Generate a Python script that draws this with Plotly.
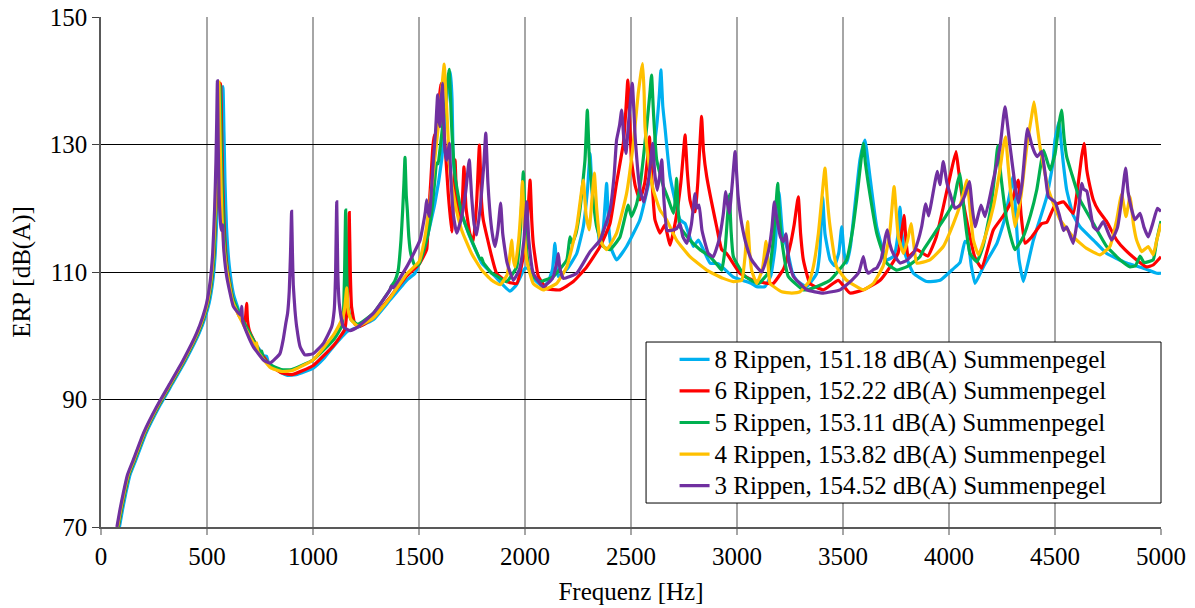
import plotly.graph_objects as go

# ---- data: (frequency Hz, ERP dB(A)) ----
rippen_8 = [(87,70),(102,72.8),(117,75.3),(137,78.2),(164,80.5),(212,84.7),(275,88.9),(337,92.5),(400,96.2),(463,100.4),(492,103),(510,105.1),(527,108.5),(539,113),(548,120),(554,127),(558,132),(564,136),(575,139.1),(580,132),(585,124),(592,117),(605,111),(625,106.5),(660,103),(700,100.2),(740,98.2),(770,96.8),(781,96.8),(790,95.8),(850,94.2),(876,93.8),(920,93.9),(1000,94.9),(1050,96.4),(1096,98.3),(1159,100.6),(1222,101.5),(1284,102.5),(1363,105.6),(1442,108.7),(1481,109.8),(1528,114),(1575,120.8),(1607,127.6),(1631,137),(1642,140.5),(1649,141.3),(1656,137),(1662,127.6),(1686,120.8),(1733,116.1),(1796,111.4),(1859,109.3),(1929,107),(1960,108),(2000,110.6),(2020,110.5),(2039,109),(2086,107.7),(2110,108.5),(2130,110.5),(2141,114.5),(2149,111),(2157,109.3),(2200,110.5),(2244,112.9),(2275,117.1),(2295,123),(2307,128.6),(2318,122),(2338,118.7),(2354,114),(2370,117),(2385,123.9),(2395,117),(2409,113.5),(2432,111.9),(2479,114),(2542,118.2),(2590,125),(2621,132.8),(2634,138),(2641,141.7),(2650,136),(2660,132.8),(2684,125),(2731,118.2),(2755,117.6),(2794,114),(2818,115),(2873,111.4),(2912,111.3),(2983,109.2),(3069,108.2),(3093,107.7),(3132,107.7),(3160,109.5),(3180,114),(3193,121),(3198,122.5),(3205,120),(3215,116),(3234,114),(3260,110),(3281,108.7),(3329,107.7),(3376,109.8),(3390,113),(3404,121.8),(3415,116),(3439,111.9),(3460,111),(3480,113),(3494,117.1),(3505,113),(3517,111.4),(3535,114),(3549,118.2),(3580,127.6),(3596,130),(3604,130.7),(3612,129),(3627,125),(3659,117.1),(3706,111.9),(3740,112.5),(3760,116),(3769,120.2),(3778,116),(3792,112.9),(3832,109.8),(3895,108.5),(3958,108.7),(4020,110.5),(4052,111.5),(4075,114.8),(4090,114.5),(4105,111),(4123,108.2),(4162,110.8),(4226,114.5),(4260,118),(4285,122),(4303,125),(4315,119),(4330,112),(4351,108.5),(4370,111),(4398,115),(4461,121.8),(4490,127),(4500,130.7),(4519,133.6),(4530,130),(4539,127.1),(4555,122.9),(4585,119),(4618,117.1),(4681,115),(4744,112.9),(4838,111.4),(4917,110.6),(4980,109.8),(5000,109.8)]

rippen_6 = [(81,70),(96,72.8),(111,75.3),(131,78.2),(158,80.5),(206,84.7),(269,88.9),(331,92.5),(394,96.2),(457,100.4),(486,103),(504,105.1),(521,108.5),(533,113),(542,120),(548,127),(552,132),(557,136.5),(564,139.6),(569,132),(574,124),(581,117),(594,111),(620,106),(650,103.2),(675,102),(682,103),(687,105.1),(691,102.5),(700,100.8),(740,98),(800,95.3),(850,94.2),(900,93.9),(1000,95.3),(1100,98.6),(1150,101),(1160,104),(1166,110),(1171,119.3),(1176,110),(1182,104.5),(1198,101.8),(1222,101.5),(1284,102.8),(1363,106),(1442,109.4),(1500,111.2),(1536,113.5),(1544,118.2),(1555,124),(1565,129.5),(1572,131.5),(1580,130.5),(1590,134),(1598,138),(1604,139.6),(1612,134),(1623,129.7),(1638,122.3),(1654,116.3),(1662,121),(1670,127.6),(1678,121),(1694,117.6),(1705,121.5),(1712,126.5),(1722,120),(1740,116),(1756,114.8),(1772,121),(1785,129.9),(1795,121),(1803,118.2),(1843,112.4),(1866,109.8),(1913,108.5),(1961,108.2),(2000,114),(2015,120),(2024,124.4),(2032,118),(2039,114.5),(2063,109.3),(2102,107.4),(2165,107.2),(2228,108.5),(2291,110.8),(2354,114),(2401,117.6),(2432,124),(2464,130.2),(2476,135.5),(2485,140.1),(2494,134),(2502,127.6),(2520,123.5),(2542,121.3),(2565,124),(2580,128.5),(2587,131.2),(2596,126),(2613,118.2),(2637,116.1),(2660,117.4),(2684,114.2),(2710,118),(2735,124),(2748,129),(2755,131.5),(2765,126),(2778,121.3),(2794,119.5),(2802,119.5),(2815,124),(2825,130),(2833,134.4),(2842,129),(2857,125),(2904,117.1),(2928,113.5),(2951,112.9),(3014,109.8),(3077,108.7),(3148,108.2),(3171,108.2),(3220,110.5),(3250,114),(3270,117.5),(3289,121.8),(3300,116),(3313,111.9),(3344,108.2),(3407,107.2),(3478,108.7),(3533,106.7),(3596,107.2),(3675,108.7),(3722,110.8),(3760,113),(3780,117),(3788,118.9),(3797,115),(3808,112.4),(3848,113.5),(3900,112.5),(3940,115.5),(3973,120.2),(4005,125),(4033,128.9),(4045,126),(4060,122.3),(4090,117),(4120,112.5),(4154,110.6),(4209,116.6),(4260,119),(4300,121.5),(4327,124.4),(4340,119),(4359,114.5),(4390,115.5),(4437,117.6),(4462,117.8),(4500,120.5),(4540,121),(4586,119.2),(4610,124),(4625,128),(4637,130.2),(4650,126),(4665,123.4),(4681,121.3),(4704,119.7),(4744,117.9),(4791,115),(4830,113.5),(4885,111.9),(4932,110.8),(4963,111.1),(5000,112.4)]

rippen_5 = [(81,70),(96,72.8),(111,75.3),(131,78.2),(158,80.5),(206,84.7),(269,88.9),(331,92.5),(394,96.2),(457,100.4),(486,103),(504,105.1),(521,108.5),(533,113),(541,120),(547,127),(551,132),(555,136),(561,139.3),(566,132),(571,124),(578,117),(592,111),(620,106),(660,103),(700,100.5),(740,98),(752,97.2),(758,97.6),(764,96.5),(800,95.4),(850,94.7),(900,94.7),(1000,96.2),(1100,99.5),(1135,101.5),(1144,104),(1149,110),(1154,119.7),(1159,110),(1165,104.5),(1180,102.5),(1212,101.8),(1284,103.5),(1363,107.2),(1370,107.8),(1385,108.5),(1402,110.3),(1415,115),(1423,119.7),(1429,124),(1434,128),(1440,122),(1445,119.7),(1452,115.5),(1461,112.9),(1480,111),(1500,111.2),(1536,115),(1560,119.5),(1575,124.5),(1583,127.1),(1590,127),(1600,129.5),(1612,133),(1623,135.4),(1633,139.5),(1642,141.8),(1648,138),(1654,132.8),(1670,125),(1701,119.2),(1748,115),(1790,112),(1796,112.2),(1803,111.5),(1843,109.8),(1866,109.4),(1913,108.5),(1961,110.8),(1978,116.5),(1992,125.7),(2002,117),(2012,112),(2024,109.8),(2071,108.5),(2134,109.3),(2197,111.9),(2212,115.5),(2222,114.5),(2240,116),(2259,119.7),(2283,127.6),(2294,135.4),(2303,128),(2315,123.4),(2338,117.1),(2369,114),(2401,113.5),(2448,115.5),(2487,120.5),(2502,118.7),(2525,120.5),(2542,123.4),(2574,132.8),(2589,138),(2597,140.9),(2606,135),(2621,127.6),(2653,123.4),(2675,121.5),(2700,119.2),(2708,121),(2715,124.7),(2722,120),(2731,117.1),(2778,115),(2826,113.5),(2873,112.4),(2910,111),(2928,110.3),(2945,114),(2957,119.5),(2964,122.2),(2972,116.5),(2983,112.4),(3038,109.3),(3101,108.2),(3150,110),(3171,115),(3184,120.5),(3192,123.9),(3200,119),(3211,115),(3242,109.3),(3313,107.2),(3360,107.5),(3439,108.7),(3517,111.9),(3545,116.5),(3564,121.3),(3585,127.5),(3596,130.2),(3606,127),(3619,123.9),(3659,116.1),(3706,111.4),(3753,110.3),(3800,110.8),(3863,112.4),(3880,113.5),(3910,115),(3942,116.6),(3980,118.5),(4020,120.8),(4040,124),(4052,125.4),(4065,121.5),(4080,117),(4099,112.9),(4131,111.6),(4160,114),(4193,119.2),(4215,125),(4230,129.8),(4245,125),(4272,118.2),(4311,113.5),(4350,115.5),(4385,119),(4414,122.9),(4446,129.1),(4462,127.5),(4477,126),(4500,128.5),(4520,133.5),(4531,135.4),(4543,131),(4555,128.1),(4578,125.5),(4618,121.3),(4681,117.6),(4744,114),(4807,111.9),(4854,110.8),(4880,111),(4901,112.5),(4920,111.5),(4963,111.9),(4980,115),(5000,118)]

rippen_4 = [(78,70),(93,72.8),(108,75.3),(128,78.2),(155,80.5),(203,84.7),(266,88.9),(328,92.5),(391,96.2),(454,100.4),(483,103),(501,105.1),(518,108.5),(530,113),(539,120),(545,127),(549,132),(552,136),(556,139.8),(561,132),(566,124),(573,117),(590,111),(620,105.5),(660,102.5),(700,100),(728,98.5),(734,98.9),(740,97.5),(800,95),(850,94.4),(900,94.5),(1000,96.2),(1100,100.3),(1140,102.8),(1150,104.5),(1159,107.5),(1166,104),(1180,102.5),(1212,101.5),(1284,102.8),(1363,105.9),(1442,109.7),(1500,111.6),(1528,115.5),(1560,123.4),(1591,132.8),(1608,139),(1619,142.6),(1625,139),(1631,135.4),(1646,126),(1670,120.8),(1701,116.6),(1748,112.9),(1796,110.3),(1843,108.7),(1882,108),(1915,109.5),(1930,113),(1937,115),(1945,112),(1953,110.8),(1970,115),(1980,119.5),(1988,124.2),(1996,117),(2008,111.9),(2039,108.2),(2086,107.2),(2149,108.2),(2197,110.8),(2244,117.1),(2262,121.5),(2275,124.4),(2288,119),(2303,116.6),(2316,121.5),(2327,125.5),(2338,120),(2354,115),(2385,113.5),(2432,116.1),(2479,122.3),(2511,130.2),(2534,138),(2548,141.5),(2555,142.7),(2562,138),(2566,132.8),(2582,127.6),(2605,122.9),(2637,119.7),(2668,118.2),(2715,115),(2778,112.4),(2857,110.3),(2935,109),(2983,108.5),(3022,108.7),(3038,112.5),(3050,117.9),(3060,113),(3069,110.3),(3093,108.2),(3120,110.5),(3137,114.8),(3147,111),(3156,108.2),(3211,106.9),(3258,106.7),(3297,106.9),(3340,108.5),(3360,110.8),(3384,116.1),(3400,121.5),(3415,126.3),(3427,121),(3439,117.1),(3470,110.8),(3517,108.7),(3596,107.2),(3643,108.2),(3690,111),(3720,116),(3741,123.4),(3752,119),(3761,115.5),(3785,112.9),(3805,115),(3821,117.6),(3835,114),(3848,111.4),(3910,111.9),(3973,114),(4020,117.5),(4060,121.3),(4085,124.4),(4100,119.5),(4115,115),(4139,112.7),(4175,116),(4209,120.2),(4240,126),(4256,129.7),(4267,131.2),(4278,127),(4288,123.4),(4311,117.1),(4340,122),(4367,129.7),(4390,134.5),(4401,136.7),(4412,134),(4429,129.7),(4469,122.9),(4524,118.2),(4586,115.5),(4649,113.7),(4712,112.7),(4759,114),(4790,118),(4814,122.2),(4835,118.7),(4854,121.8),(4870,117.5),(4885,115),(4909,113.2),(4940,114),(4963,112.7),(4980,115),(5000,117.6)]

rippen_3 = [(75,70),(90,72.8),(105,75.3),(125,78.2),(152,80.5),(200,84.7),(263,88.9),(325,92.5),(388,96.2),(451,100.4),(480,103),(498,105.1),(515,108.5),(527,113),(536,120),(542,127),(546,134),(549,140),(553,130),(557,122),(562,118.5),(566,117),(570,116.5),(574,117.4),(578,114),(593,109.3),(624,104.6),(650,103.5),(660,103.2),(664,104.6),(668,102.3),(690,100.3),(718,98.3),(766,96.2),(797,95.7),(844,97.2),(860,99.5),(872,102),(880,103.5),(888,107),(894,113),(899,119.5),(903,113),(907,108),(915,104),(923,101.4),(939,98.3),(962,97.0),(1001,97.2),(1049,98.8),(1088,101.4),(1100,104),(1106,109),(1112,121),(1117,110),(1124,105),(1143,101.4),(1175,100.8),(1212,101.4),(1284,103.5),(1363,107.2),(1370,107.8),(1378,107.5),(1442,110.8),(1505,115),(1520,117.5),(1530,119.5),(1536,121.3),(1543,119.5),(1549,118.7),(1560,123.5),(1568,127.6),(1578,132),(1588,137.8),(1594,134),(1599,132.8),(1604,136.5),(1610,139.6),(1616,134),(1623,129.1),(1631,127.5),(1638,129),(1643,130.2),(1650,125),(1662,119),(1678,116.1),(1700,118.5),(1720,122.5),(1737,127.6),(1748,122),(1760,117.5),(1772,115.8),(1790,120.5),(1805,126.5),(1815,131.8),(1825,124),(1840,117.5),(1851,115),(1859,114),(1872,116.5),(1885,120.8),(1895,116),(1915,111.5),(1945,108.7),(1975,110.5),(1995,115),(2008,121),(2018,115),(2039,109.8),(2086,107.7),(2130,109),(2150,111.5),(2157,112.9),(2165,110.5),(2181,109),(2244,109.8),(2307,113.2),(2354,115),(2401,119.7),(2420,125),(2432,130.7),(2446,133),(2456,135.4),(2466,131),(2476,128.6),(2490,134),(2506,139.6),(2520,131),(2542,123),(2560,121),(2585,125),(2602,130.2),(2612,125.5),(2624,122.8),(2635,125),(2645,127.6),(2656,121),(2670,116.5),(2684,116.5),(2715,116.8),(2731,117.6),(2745,115.5),(2763,114.5),(2785,117.5),(2802,122.3),(2810,120),(2821,120.5),(2835,116.5),(2865,112.9),(2888,112.4),(2915,115),(2935,119),(2947,122.6),(2956,120.5),(2964,119.2),(2978,124),(2991,128.9),(3005,122),(3022,117.6),(3046,114),(3069,111.9),(3117,110.0),(3150,113.5),(3165,117),(3176,121),(3185,119),(3205,115.5),(3219,114.8),(3231,116),(3245,111.5),(3266,109.3),(3329,107.2),(3407,106.7),(3486,107.2),(3541,108.7),(3575,110),(3596,112.4),(3608,110.5),(3619,109.8),(3645,110.4),(3659,110.6),(3680,112),(3700,115.5),(3709,116.6),(3720,114.5),(3737,112.9),(3769,111.4),(3800,111.8),(3832,112.9),(3855,115),(3871,117.1),(3890,120.7),(3904,118.8),(3920,121.5),(3945,125.8),(3957,123.7),(3973,127.3),(3990,124),(4005,122.3),(4028,120),(4052,120.5),(4075,122),(4096,124.2),(4110,120),(4123,117.1),(4151,120.5),(4170,118.7),(4209,124.4),(4241,129.7),(4264,135.9),(4288,129.7),(4310,124),(4327,120.8),(4345,124),(4370,132.5),(4390,130),(4406,128.6),(4417,128.1),(4437,128.9),(4455,125),(4469,121.8),(4500,121),(4520,119),(4540,116.5),(4555,117.1),(4586,114.5),(4605,118),(4626,123.9),(4635,123),(4650,122.7),(4665,120),(4681,117.1),(4700,116.5),(4728,117.9),(4767,115),(4795,117),(4815,121.5),(4833,126.3),(4845,122.5),(4860,120),(4877,118.2),(4901,119.2),(4920,117),(4940,115.5),(4960,117.5),(4983,120),(5000,119.5)]

series_names = ["8 Rippen, 151.18 dB(A) Summenpegel",
                "6 Rippen, 152.22 dB(A) Summenpegel",
                "5 Rippen, 153.11 dB(A) Summenpegel",
                "4 Rippen, 153.82 dB(A) Summenpegel",
                "3 Rippen, 154.52 dB(A) Summenpegel"]
series_data = [rippen_8, rippen_6, rippen_5, rippen_4, rippen_3]
series_colors = ["#00B0F0", "#FF0000", "#00B050", "#FFC000", "#7030A0"]

x_ticks = [0, 500, 1000, 1500, 2000, 2500, 3000, 3500, 4000, 4500, 5000]
y_ticks = [70, 90, 110, 130, 150]

FONT = "Liberation Serif"

fig = go.Figure()
for name, data, color in zip(series_names, series_data, series_colors):
    fx = [p[0] for p in data]
    fy = [p[1] for p in data]
    fig.add_trace(go.Scatter(x=fx, y=fy, mode="lines",
                             name='<span style="font-size:25px">' + name + '</span>',
                             line=dict(color=color, width=3.2, shape="spline", smoothing=0.4)))

# legend frame
fig.add_shape(type="rect", xref="paper", yref="paper",
              x0=0.5142, x1=1.0, y0=0.047, y1=0.3627,
              line=dict(color="black", width=1), fillcolor="white", layer="above")

fig.update_layout(
    width=1195, height=608,
    margin=dict(l=101, r=34, t=17, b=81, autoexpand=False),
    paper_bgcolor="white", plot_bgcolor="white",
    font=dict(family=FONT, size=25, color="black"),
    showlegend=True,
    legend=dict(x=0.5411, y=0.3696, xanchor="left", yanchor="top",
                bgcolor="rgba(0,0,0,0)", borderwidth=0,
                font=dict(family=FONT, size=22, color="black"),
                itemwidth=30, tracegroupgap=0),
    xaxis=dict(range=[0, 5000], tickvals=x_ticks, ticktext=[str(v) for v in x_ticks],
               showgrid=True, gridcolor="#A6A6A6", gridwidth=1.5,
               showline=True, linecolor="#595959", linewidth=1.5,
               ticks="outside", ticklen=6, tickcolor="#A6A6A6", tickwidth=1.5,
               zeroline=False, automargin=False,
               title=dict(text="Frequenz [Hz]", font=dict(family=FONT, size=25), standoff=14),
               tickfont=dict(family=FONT, size=25)),
    yaxis=dict(range=[70, 150], tickvals=y_ticks, ticktext=[str(v) for v in y_ticks],
               showgrid=True, gridcolor="black", gridwidth=1,
               showline=True, linecolor="#595959", linewidth=1.5,
               ticks="outside", ticklen=7, tickcolor="#404040", tickwidth=1,
               zeroline=False, automargin=False,
               title=dict(text="ERP [dB(A)]", font=dict(family=FONT, size=25), standoff=12),
               tickfont=dict(family=FONT, size=25)),
)

fig.write_html("out.html")
